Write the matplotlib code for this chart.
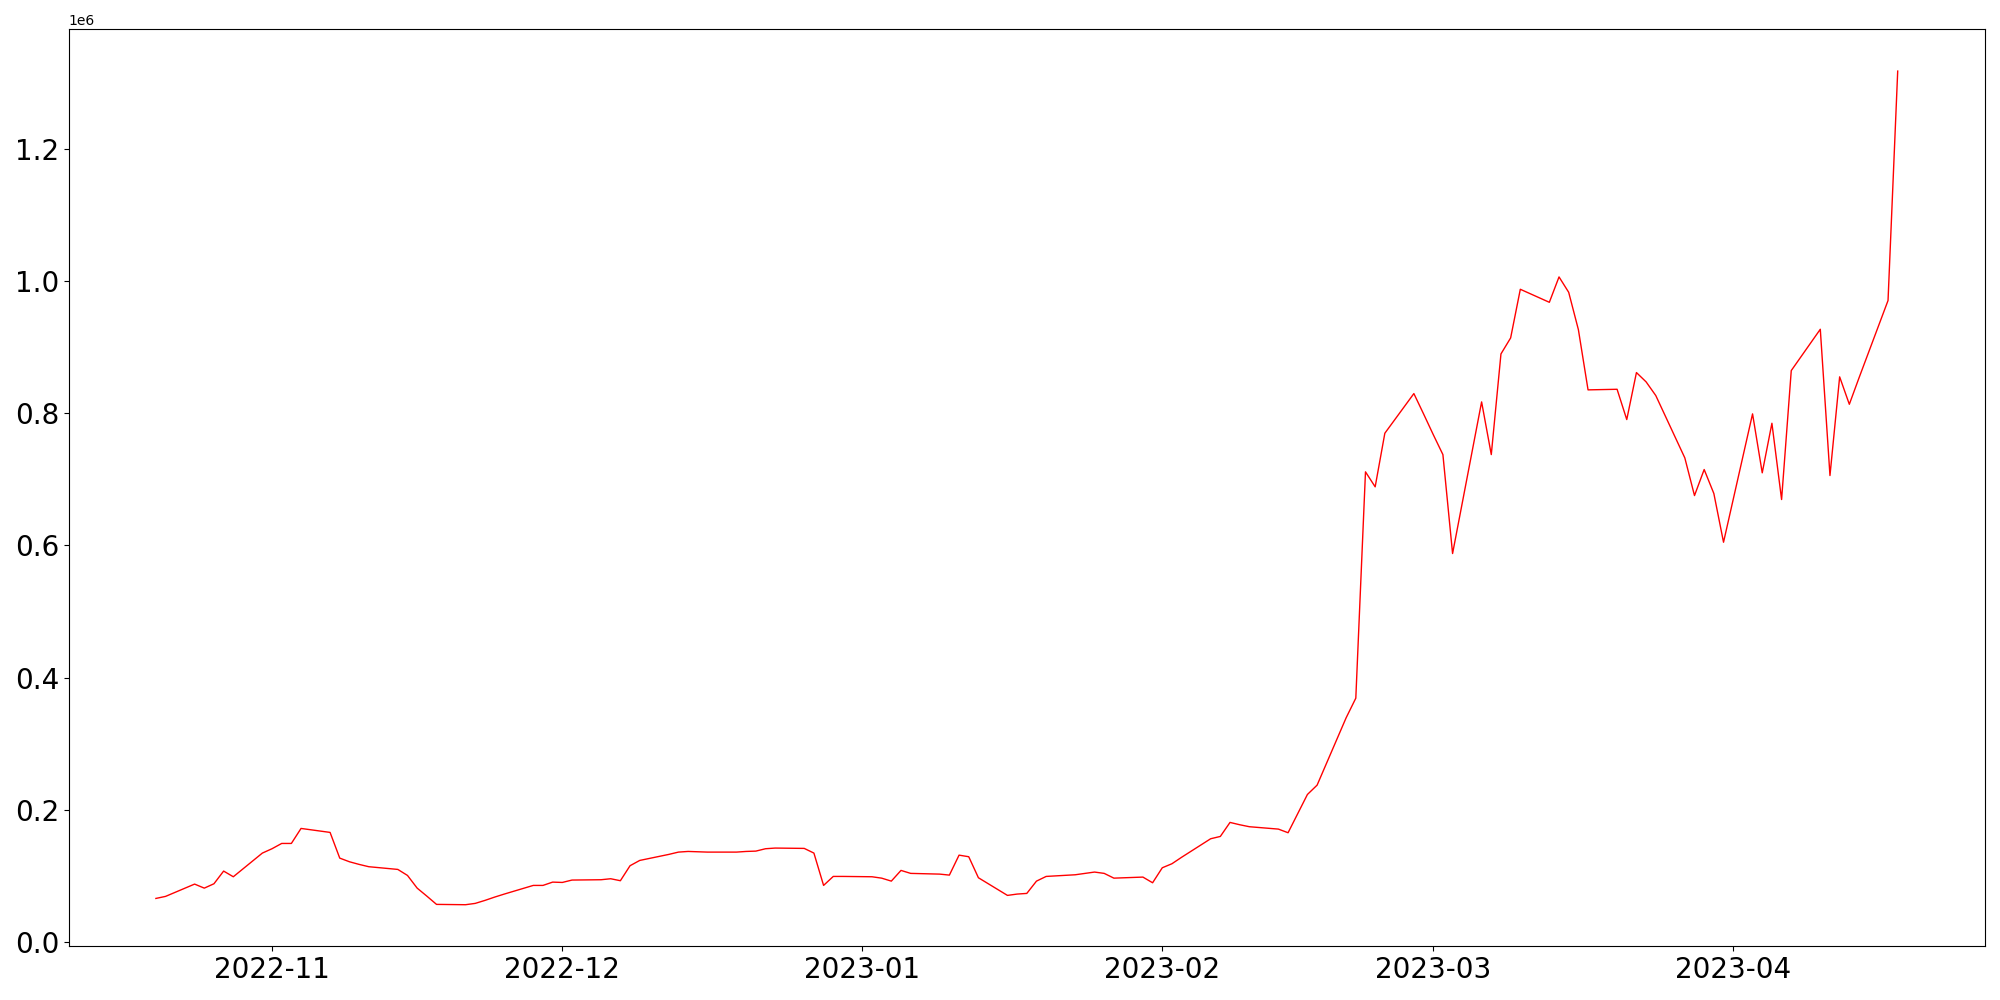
import numpy as np
import pandas as pd
import matplotlib
matplotlib.use("Agg")
import matplotlib.pyplot as plt

# business days, first and last point
start_day = "2022-10-20"
end_day = "2023-04-18"

# values (x 1e6), one per weekday
values = [
    0.0659, 0.0690,
    0.0876, 0.0815, 0.0881, 0.1073, 0.0987,
    0.1345, 0.1411, 0.1491, 0.1491, 0.1718,
    0.1658, 0.1269, 0.1214, 0.1174, 0.1139,
    0.1098, 0.1007, 0.0815, 0.0694, 0.0569,
    0.0564, 0.0584, 0.0629, 0.0679, 0.0725,
    0.0856, 0.0856, 0.0906, 0.0901, 0.0937,
    0.0942, 0.0957, 0.0927, 0.1154, 0.1234,
    0.1325, 0.1360, 0.1370, 0.1365, 0.1360,
    0.1360, 0.1370, 0.1375, 0.1411, 0.1421,
    0.1416, 0.1345, 0.0856, 0.0992, 0.0992,
    0.0987, 0.0966, 0.0921, 0.1083, 0.1038,
    0.1027, 0.1012, 0.1314, 0.1290, 0.0972,
    0.0705, 0.0725, 0.0735, 0.0921, 0.0992,
    0.1017, 0.1038, 0.1058, 0.1038, 0.0966,
    0.0982, 0.0896, 0.1123, 0.1184, 0.1282,
    0.1562, 0.1597, 0.1809, 0.1774, 0.1744,
    0.1708, 0.1653, 0.1942, 0.2232, 0.2373,
    0.3392, 0.3689, 0.7113, 0.6886, 0.7697,
    0.8297, 0.7990, 0.7677, 0.7374, 0.5877,
    0.8171, 0.7374, 0.8897, 0.9139, 0.9875,
    0.9678, 1.0062, 0.9829, 0.9265, 0.8353,
    0.8362, 0.7904, 0.8615, 0.8474, 0.8267,
    0.7324, 0.6754, 0.7148, 0.6785, 0.6048,
    0.7990, 0.7098, 0.7848, 0.6694, 0.8645,
    0.9270, 0.7057, 0.8550, 0.8135, 0.8534,
    0.9705, 1.3176,
]

dates = pd.bdate_range(start_day, end_day)
y = np.array(values) * 1e6

fig = plt.figure(figsize=(20, 10), dpi=100)
ax = fig.add_axes([0.0344, 0.0536, 0.958, 0.917])
ax.plot(dates, y, color="red", linewidth=1)
ax.tick_params(axis="both", labelsize=20)

fig.savefig("out.png")
